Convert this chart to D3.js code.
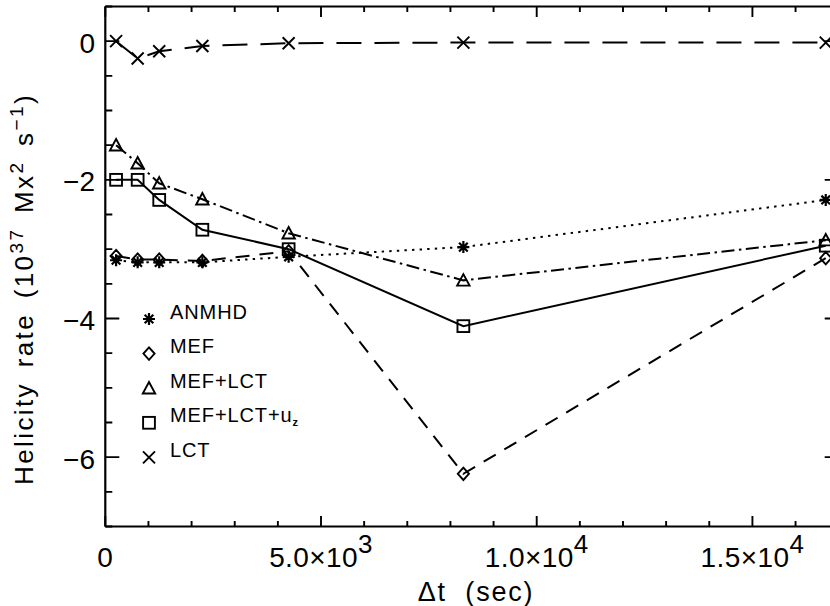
<!DOCTYPE html>
<html><head><meta charset="utf-8">
<script src="https://cdn.jsdelivr.net/npm/d3@7"></script>
<style>
body{margin:0;background:#fff;}
svg{display:block;font-family:"Liberation Sans",Arial,Helvetica,sans-serif;}
</style></head>
<body>
<div id="chart"></div>
<script>
// ---- data ----
const dt = [250, 750, 1250, 2250, 4250, 8300, 16700];
const anmhd    = [-3.16, -3.19, -3.19, -3.19, -3.11, -2.97, -2.29];
const mef      = [-3.10, -3.15, -3.15, -3.17, -3.03, -6.24, -3.13];
const mefLct   = [-1.50, -1.76, -2.05, -2.28, -2.77, -3.45, -2.87];
const mefLctUz = [-2.00, -2.00, -2.29, -2.72, -3.00, -4.11, -2.95];
const lct      = [0.00, -0.25, -0.145, -0.07, -0.03, -0.02, -0.02];
const seriesNames = ["ANMHD", "MEF", "MEF+LCT", "MEF+LCT+u", "LCT"];
const xMajorTicks = [0, 5000, 10000, 15000];
const xTickLabels = [["0",""], ["5.0×10","3"], ["1.0×10","4"], ["1.5×10","4"]];
const yMajorTicks = [0, -2, -4, -6];
const yTickLabels = ["0", "−2", "−4", "−6"];

const W = 830, H = 606;
const svg = d3.select("#chart").append("svg").attr("width", W).attr("height", H);

const x = d3.scaleLinear().domain([0, 17000]).range([105.3, 838.7]);
const y = d3.scaleLinear().domain([-7, 0.5]).range([526.5, 6.5]);

const series = [
  {name: seriesNames[0], vals: anmhd,    dash: "2.4,5.2",          sym: "asterisk"},
  {name: seriesNames[1], vals: mef,      dash: "14,10",            sym: "diamond"},
  {name: seriesNames[2], vals: mefLct,   dash: "13,4.5,2.5,4.5",   sym: "triangle"},
  {name: seriesNames[3], vals: mefLctUz, dash: null,               sym: "square"},
  {name: seriesNames[4], vals: lct,      dash: "25,13",            sym: "cross"}
];

function drawSym(g, type, cx, cy) {
  const s = g.append("g").attr("transform", `translate(${cx},${cy})`)
    .attr("fill", "none").attr("stroke", "#000").attr("stroke-width", 1.9);
  if (type === "asterisk") {
    const r = 6;
    s.append("path").attr("d", `M${-r},0H${r}M0,${-r}V${r}M${-r*0.72},${-r*0.72}L${r*0.72},${r*0.72}M${-r*0.72},${r*0.72}L${r*0.72},${-r*0.72}`)
      .attr("stroke-width", 2.2);
  } else if (type === "diamond") {
    const r = 6.2;
    s.append("path").attr("d", `M0,${-r}L${r*0.9},0L0,${r}L${-r*0.9},0Z`);
  } else if (type === "triangle") {
    const r = 6.2;
    s.append("path").attr("d", `M0,${-r}L${r},${r*0.85}L${-r},${r*0.85}Z`);
  } else if (type === "square") {
    const r = 5.9;
    s.append("rect").attr("x", -r).attr("y", -r).attr("width", 2*r).attr("height", 2*r);
  } else if (type === "cross") {
    const r = 6;
    s.append("path").attr("d", `M${-r},${-r}L${r},${r}M${-r},${r}L${r},${-r}`);
  }
}

// ---- lines ----
const line = d3.line().x((d, i) => x(dt[i])).y(d => y(d));
series.forEach(sr => {
  const p = svg.append("path").datum(sr.vals).attr("d", line)
    .attr("fill", "none").attr("stroke", "#000").attr("stroke-width", 2);
  if (sr.dash) p.attr("stroke-dasharray", sr.dash);
});
series.forEach(sr => {
  const g = svg.append("g");
  sr.vals.forEach((v, i) => drawSym(g, sr.sym, x(dt[i]), y(v)));
});

// ---- axes ----
const [x0, x1] = x.range();
const [yb, yt] = y.range();
const ax = svg.append("g").attr("stroke", "#000").attr("fill", "none");
ax.append("path").attr("d", `M${x0},${yt}H${x1}M${x0},${yb}H${x1}M${x0},${yt}V${yb}M${x1},${yt}V${yb}`)
  .attr("stroke-width", 2.2);
const xMinor = d3.range(0, 17001, 1000);
xMinor.forEach(t => {
  const major = xMajorTicks.includes(t);
  const len = major ? 10.5 : 5.5;
  ax.append("path").attr("d", `M${x(t)},${yb}V${yb-len}M${x(t)},${yt}V${yt+len}`).attr("stroke-width", 1.9);
});
const yMinor = d3.range(-7, 0.51, 0.5);
yMinor.forEach(t => {
  const major = yMajorTicks.includes(t);
  const len = major ? 14 : 7;
  ax.append("path").attr("d", `M${x0},${y(t)}H${x0+len}M${x1},${y(t)}H${x1-len}`).attr("stroke-width", 1.9);
});

// x tick labels
xMajorTicks.forEach((t, i) => {
  const tx = svg.append("text").attr("x", x(t)).attr("y", 566.5).attr("text-anchor", "middle")
    .attr("font-size", 28).attr("letter-spacing", 0.4);
  tx.append("tspan").text(xTickLabels[i][0]);
  if (xTickLabels[i][1]) tx.append("tspan").attr("dy", -13.5).attr("font-size", 26).text(xTickLabels[i][1]);
});
// y tick labels
yMajorTicks.forEach((t, i) => {
  svg.append("text").attr("x", 95).attr("y", y(t) + 11.5).attr("text-anchor", "end")
    .attr("font-size", 28).text(yTickLabels[i]);
});

// axis titles
svg.append("text").attr("x", 476).attr("y", 601).attr("text-anchor", "middle").attr("font-size", 27)
  .attr("letter-spacing", 1.8).style("white-space", "pre")
  .text("Δt  (sec)");
const yt2 = svg.append("text").attr("transform", "translate(33,289) rotate(-90)")
  .attr("text-anchor", "middle").attr("font-size", 26).attr("letter-spacing", 2.4)
  .attr("word-spacing", 5).style("white-space", "pre");
yt2.append("tspan").text("Helicity rate (10");
yt2.append("tspan").attr("dy", -10).attr("font-size", 19).text("37");
yt2.append("tspan").attr("dy", 10).text(" Mx");
yt2.append("tspan").attr("dy", -10).attr("font-size", 19).text("2");
yt2.append("tspan").attr("dy", 10).text(" s");
yt2.append("tspan").attr("dy", -10).attr("font-size", 19).text("−1");
yt2.append("tspan").attr("dy", 10).text(")");

// legend
const legY0 = 318.5, legDy = 34.6;
series.forEach((sr, i) => {
  const ly = legY0 + i * legDy;
  drawSym(svg, sr.sym, 149, ly + 0.5);
  const t = svg.append("text").attr("x", 170).attr("y", ly).attr("font-size", 20)
    .attr("letter-spacing", 0.9).text(sr.name);
  if (sr.name === "MEF+LCT+u") t.append("tspan").attr("dy", 4).attr("font-size", 11).attr("font-weight", "bold").text("z");
});
</script>
</body></html>
